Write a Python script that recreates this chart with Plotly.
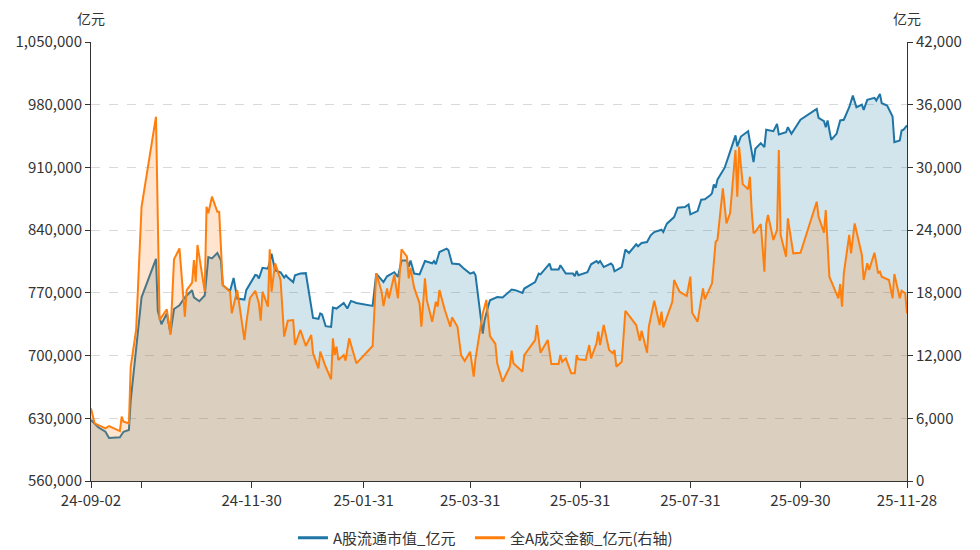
import plotly.graph_objects as go

# ---- data ----
mcap_dates = [
"2024-09-02","2024-09-06","2024-09-10","2024-09-12","2024-09-18","2024-09-20","2024-09-23","2024-09-24","2024-09-30",
"2024-10-08","2024-10-09","2024-10-11","2024-10-14","2024-10-16","2024-10-18","2024-10-21","2024-10-24","2024-10-28","2024-10-29",
"2024-11-01","2024-11-04","2024-11-06","2024-11-08","2024-11-11","2024-11-13","2024-11-14","2024-11-18","2024-11-20","2024-11-22",
"2024-11-26","2024-11-27","2024-12-02","2024-12-03","2024-12-04","2024-12-06","2024-12-09","2024-12-10","2024-12-11","2024-12-13",
"2024-12-16","2024-12-18","2024-12-19","2024-12-20","2024-12-23","2024-12-24","2024-12-27","2024-12-30","2025-01-03","2025-01-06",
"2025-01-07","2025-01-08","2025-01-10","2025-01-13","2025-01-14","2025-01-16","2025-01-20","2025-01-22","2025-01-24","2025-01-27",
"2025-02-05","2025-02-07","2025-02-11","2025-02-13","2025-02-17","2025-02-19","2025-02-21","2025-02-24","2025-02-25","2025-02-26",
"2025-02-28","2025-03-03","2025-03-06","2025-03-10","2025-03-11","2025-03-12","2025-03-14","2025-03-18","2025-03-19","2025-03-21",
"2025-03-25","2025-03-27","2025-03-31","2025-04-02","2025-04-03","2025-04-07","2025-04-08","2025-04-10","2025-04-11","2025-04-15",
"2025-04-18","2025-04-23","2025-04-25","2025-04-29","2025-04-30","2025-05-06","2025-05-08","2025-05-09","2025-05-14","2025-05-15",
"2025-05-19","2025-05-20","2025-05-23","2025-05-27","2025-05-28","2025-05-29","2025-05-30","2025-06-04","2025-06-06","2025-06-09",
"2025-06-10","2025-06-11","2025-06-13","2025-06-17","2025-06-18","2025-06-19","2025-06-23","2025-06-25","2025-06-27","2025-07-01",
"2025-07-02","2025-07-04","2025-07-07","2025-07-09","2025-07-11","2025-07-15","2025-07-16","2025-07-17","2025-07-18","2025-07-22",
"2025-07-24","2025-07-28","2025-07-30","2025-07-31","2025-08-04","2025-08-06","2025-08-08","2025-08-11","2025-08-12","2025-08-13",
"2025-08-14","2025-08-15","2025-08-19","2025-08-21","2025-08-25","2025-08-26","2025-08-28","2025-09-01","2025-09-04","2025-09-05",
"2025-09-08","2025-09-10","2025-09-11","2025-09-15","2025-09-17","2025-09-18","2025-09-22","2025-09-23","2025-09-25","2025-09-30",
"2025-10-09","2025-10-10","2025-10-13","2025-10-14","2025-10-15","2025-10-17","2025-10-20","2025-10-22","2025-10-24","2025-10-27",
"2025-10-29","2025-10-31","2025-11-03","2025-11-04","2025-11-06","2025-11-10","2025-11-11","2025-11-13","2025-11-14","2025-11-17",
"2025-11-20","2025-11-21","2025-11-24","2025-11-25","2025-11-26","2025-11-28"]
mcap_values = [
628000,620000,615000,608000,608700,615000,617000,650000,765000,
808000,750000,735000,747000,725000,752000,756000,765000,773000,765000,
760600,767000,810000,808500,814500,806000,778500,772000,786600,763600,
762500,773000,790000,789600,786000,798000,797000,804500,813800,795000,
793000,787000,789600,787000,782000,789600,791500,792000,742000,741000,
747000,746000,732800,732000,753600,752500,758700,752500,761000,758700,
755400,791500,782000,788500,793000,787700,806000,806000,798800,806000,
791500,790500,805500,803000,805500,801900,815600,819400,817500,802700,
801900,798000,791500,793000,789600,724600,739400,755000,761700,765400,
764800,773700,773000,770000,774800,782000,791500,790700,802700,796000,
796000,800800,791500,791500,788500,794400,789600,793000,801900,805500,
803300,805500,798800,802700,800800,794100,798800,818300,814500,824200,
822000,825600,826700,834200,837900,840500,837900,842800,847200,854600,
865000,865800,868700,857600,861300,874000,874500,878800,881400,891000,
887400,896300,909700,921500,945700,933400,944500,950400,915900,930800,
937100,932600,952000,950400,958600,946800,949300,954900,947500,963200,
975400,965400,961600,954900,962400,940900,947500,962400,963200,977200,
990200,977200,980200,974300,985400,987700,984700,992100,981700,979000,
966800,938200,940100,951200,952000,956800]

turnover_dates = [
"2024-09-02","2024-09-04","2024-09-10","2024-09-12","2024-09-18","2024-09-19","2024-09-20","2024-09-23","2024-09-24","2024-09-27",
"2024-09-30","2024-10-08","2024-10-10","2024-10-14","2024-10-16","2024-10-18","2024-10-21","2024-10-24","2024-10-25","2024-10-28",
"2024-10-29","2024-10-30","2024-10-31","2024-11-04","2024-11-05","2024-11-06","2024-11-08","2024-11-11","2024-11-12","2024-11-14",
"2024-11-18","2024-11-19","2024-11-22","2024-11-26","2024-11-27","2024-11-29","2024-12-02","2024-12-04","2024-12-05","2024-12-06",
"2024-12-09","2024-12-10","2024-12-11","2024-12-13","2024-12-16","2024-12-18","2024-12-20","2024-12-23","2024-12-24","2024-12-27",
"2024-12-30","2025-01-02","2025-01-03","2025-01-06","2025-01-07","2025-01-09","2025-01-10","2025-01-13","2025-01-14","2025-01-15",
"2025-01-16","2025-01-17","2025-01-20","2025-01-21","2025-01-23","2025-01-27","2025-02-05","2025-02-07","2025-02-10","2025-02-11",
"2025-02-13","2025-02-14","2025-02-17","2025-02-19","2025-02-21","2025-02-24","2025-02-25","2025-02-26","2025-02-28","2025-03-03",
"2025-03-04","2025-03-06","2025-03-07","2025-03-10","2025-03-12","2025-03-13","2025-03-14","2025-03-17","2025-03-20","2025-03-21",
"2025-03-24","2025-03-26","2025-03-28","2025-03-31","2025-04-02","2025-04-03","2025-04-07","2025-04-09","2025-04-11","2025-04-14",
"2025-04-15","2025-04-18","2025-04-22","2025-04-23","2025-04-24","2025-04-29","2025-04-30","2025-05-06","2025-05-07","2025-05-09",
"2025-05-13","2025-05-15","2025-05-19","2025-05-20","2025-05-21","2025-05-23","2025-05-26","2025-05-28","2025-05-29","2025-05-30",
"2025-06-03","2025-06-05","2025-06-06","2025-06-09","2025-06-10","2025-06-11","2025-06-13","2025-06-16","2025-06-18","2025-06-19",
"2025-06-20","2025-06-23","2025-06-25","2025-07-01","2025-07-03","2025-07-04","2025-07-07","2025-07-08","2025-07-11","2025-07-14",
"2025-07-15","2025-07-16","2025-07-21","2025-07-22","2025-07-25","2025-07-29","2025-07-31","2025-08-01","2025-08-04","2025-08-07",
"2025-08-08","2025-08-12","2025-08-14","2025-08-15","2025-08-18","2025-08-20","2025-08-22","2025-08-25","2025-08-26","2025-08-27",
"2025-08-29","2025-09-01","2025-09-02","2025-09-03","2025-09-04","2025-09-05","2025-09-08","2025-09-10","2025-09-11","2025-09-12",
"2025-09-15","2025-09-17","2025-09-18","2025-09-19","2025-09-22","2025-09-23","2025-09-24","2025-09-26","2025-09-30","2025-10-09",
"2025-10-10","2025-10-13","2025-10-14","2025-10-16","2025-10-21","2025-10-22","2025-10-23","2025-10-24","2025-10-27","2025-10-28",
"2025-10-30","2025-11-03","2025-11-04","2025-11-06","2025-11-07","2025-11-10","2025-11-12","2025-11-13","2025-11-14","2025-11-18",
"2025-11-20","2025-11-21","2025-11-24","2025-11-25","2025-11-27","2025-11-28"]
turnover_values = [
6950,5520,5040,5260,4780,6150,5680,5520,10930,14450,
26240,34850,15400,16430,13970,21210,22260,15720,18270,18970,
21140,19070,22580,18110,26240,25610,27200,25760,25760,18750,
18110,16040,18270,13490,15090,17480,18200,17000,15340,18110,
16680,22170,18110,20830,19230,13810,15340,15400,13010,14450,
12920,13970,12220,10780,12370,11410,10930,9730,13650,12050,
12850,11580,12050,11510,13650,11260,12920,19870,18110,16740,
18430,17480,19710,17480,22170,21460,19390,20350,18500,17000,
14760,19390,17320,15240,17150,16680,18270,16360,14760,15660,
14760,12050,11480,12370,9980,11700,16040,17320,13870,13110,
11260,9500,10930,12470,11260,10460,12050,13490,14920,12270,
13490,11190,11190,12050,11410,11740,10300,10300,12050,11640,
11580,13010,11740,13170,14280,13010,14920,12530,12220,12530,
10930,11410,16290,14920,13420,14380,12270,14760,17250,14920,
16200,14700,17150,19230,18110,17700,19550,16100,15240,18430,
17380,18910,22890,23060,28000,24650,25610,31670,27200,31980,
28400,27910,29110,25760,23700,23850,24590,20020,24590,25450,
23060,24010,31670,23540,21460,25130,23850,21780,21840,26720,
25290,23760,25930,19550,17480,18850,16680,19870,23540,21780,
24650,21620,19230,20830,20190,21840,19870,20020,19550,19230,
17480,19800,17480,18200,17960,16040]

series_names = ["A股流通市值_亿元", "全A成交金额_亿元(右轴)"]
tick_dates = ["2024-09-02", "2024-09-30", "2024-11-30", "2025-01-31", "2025-03-31",
              "2025-05-31", "2025-07-31", "2025-09-30", "2025-11-28"]
tick_labels = ["24-09-02", "", "24-11-30", "25-01-31", "25-03-31",
               "25-05-31", "25-07-31", "25-09-30", "25-11-28"]
left_ticks = list(range(560000, 1050001, 70000))
right_ticks = list(range(0, 42001, 6000))
unit_label = "亿元"

BLUE = "#1f76a6"
ORANGE = "#ff7f0e"
FONT = "Noto Sans CJK SC, Microsoft YaHei, sans-serif"
AXIS = "#333333"
FS = 15

fig = go.Figure()
fig.add_trace(go.Scatter(
    x=mcap_dates, y=mcap_values, name=series_names[0], mode="lines",
    line=dict(color=BLUE, width=2), fill="tozeroy", fillcolor="rgba(30,125,160,0.2)",
    yaxis="y", showlegend=False))
fig.add_trace(go.Scatter(
    x=turnover_dates, y=turnover_values, name=series_names[1], mode="lines",
    line=dict(color=ORANGE, width=2), fill="tozeroy", fillcolor="rgba(255,127,14,0.2)",
    yaxis="y2", showlegend=False))
# legend-only entries (plain line swatches, like the reference legend)
fig.add_trace(go.Scatter(x=[None], y=[None], name=series_names[0], mode="lines",
                         line=dict(color=BLUE, width=3), legend="legend", hoverinfo="skip"))
fig.add_trace(go.Scatter(x=[None], y=[None], name=series_names[1], mode="lines",
                         line=dict(color=ORANGE, width=3), legend="legend2", hoverinfo="skip"))

legend_common = dict(orientation="h", xanchor="left", yref="container", y=0.022,
                     yanchor="middle", font=dict(size=FS, color=AXIS), itemwidth=30,
                     bgcolor="rgba(0,0,0,0)")

# the page body adds an 8px offset, so the figure is 8px smaller and margins shifted
fig.update_layout(
    width=972, height=542,
    margin=dict(l=83, r=73, t=34, b=69, autoexpand=False),
    paper_bgcolor="white", plot_bgcolor="white",
    font=dict(family=FONT, size=FS, color=AXIS),
    showlegend=True,
    legend=dict(x=0.2475, **legend_common),
    legend2=dict(x=0.4644, **legend_common),
    xaxis=dict(type="date", range=["2024-09-02", "2025-11-28"],
               tickvals=tick_dates, ticktext=tick_labels,
               showline=True, linecolor=AXIS, linewidth=1,
               ticks="outside", ticklen=6, tickcolor=AXIS,
               showgrid=False, zeroline=False, automargin=False,
               tickfont=dict(size=FS, color=AXIS)),
    yaxis=dict(range=[560000, 1050000], tickvals=left_ticks, tickformat=",d",
               showline=True, linecolor=AXIS, linewidth=1,
               ticks="outside", ticklen=5, tickcolor=AXIS,
               showgrid=True, gridcolor="#d9d9d9", griddash="dash", gridwidth=1,
               zeroline=False, automargin=False, tickfont=dict(size=FS, color=AXIS)),
    yaxis2=dict(range=[0, 42000], tickvals=right_ticks, tickformat=",d",
                overlaying="y", side="right",
                showline=True, linecolor=AXIS, linewidth=1,
                ticks="outside", ticklen=5, tickcolor=AXIS,
                showgrid=False, zeroline=False, automargin=False,
                tickfont=dict(size=FS, color=AXIS)),
    annotations=[
        dict(text=unit_label, xref="paper", yref="paper", x=0, y=1, xanchor="center",
             yanchor="bottom", yshift=12, showarrow=False, font=dict(size=14, color=AXIS)),
        dict(text=unit_label, xref="paper", yref="paper", x=1, y=1, xanchor="center",
             yanchor="bottom", yshift=12, showarrow=False, font=dict(size=14, color=AXIS)),
    ],
)

fig.write_html("out.html")
